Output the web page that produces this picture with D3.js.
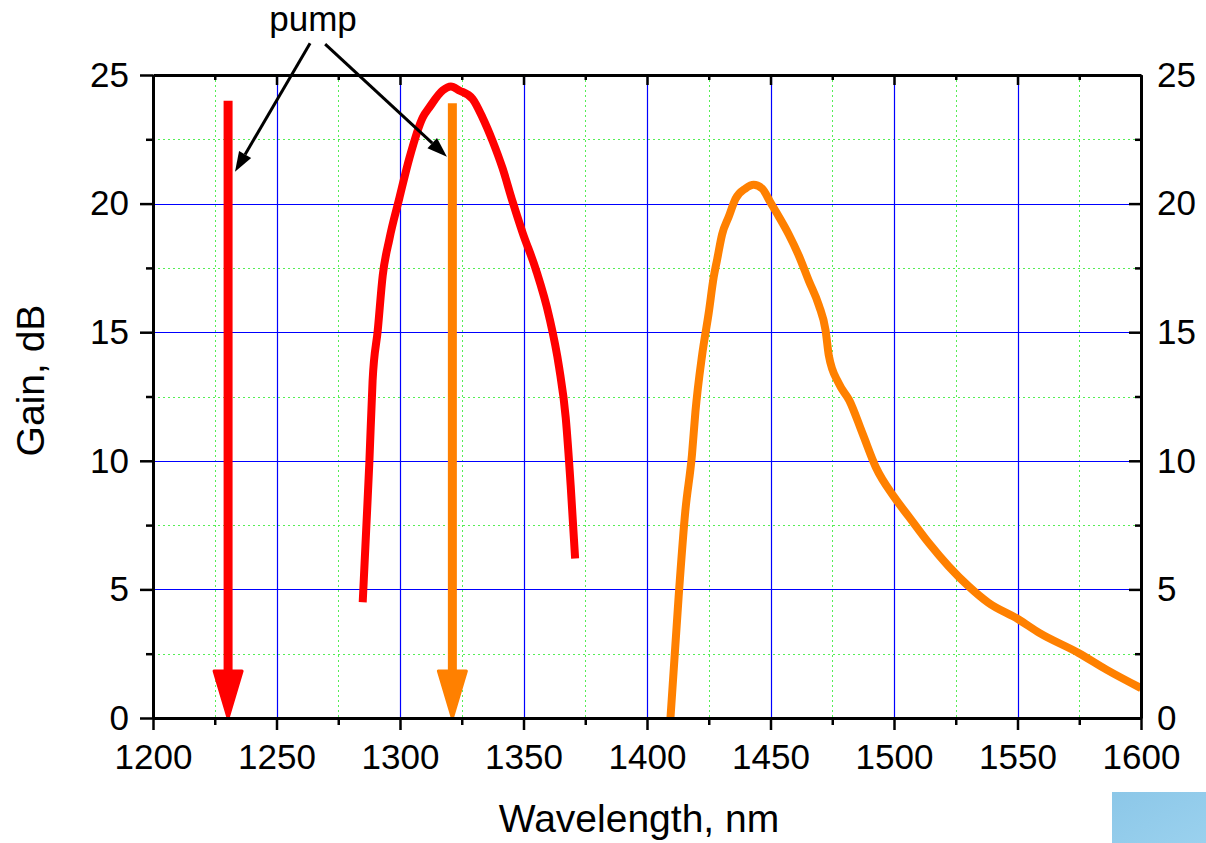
<!DOCTYPE html>
<html>
<head>
<meta charset="utf-8">
<script src="https://cdn.jsdelivr.net/npm/d3@7"></script>
<style>
  html, body { margin: 0; padding: 0; background: #fff; }
  svg { display: block; font-family: "Liberation Sans", Arial, sans-serif; }
</style>
</head>
<body>
<svg id="chart" width="1206" height="843"></svg>
<script>
// ---------- data ----------
const xMajorTicks = [1200, 1250, 1300, 1350, 1400, 1450, 1500, 1550, 1600];
const xMinorTicks = [1225, 1275, 1325, 1375, 1425, 1475, 1525, 1575];
const yMajorTicks = [0, 5, 10, 15, 20, 25];
const yMinorTicks = [2.5, 7.5, 12.5, 17.5, 22.5];

// red gain curve (pump 1230 nm)
const redWavelength = [1284.9, 1286.3, 1287.6, 1288.9, 1291.0, 1293.0, 1295.7, 1299.7, 1303.8, 1309.2, 1311.9, 1317.3, 1320.6, 1324.0, 1329.4, 1333.4, 1337.5, 1341.5, 1345.6, 1349.6, 1355.0, 1360.4, 1364.4, 1367.1, 1369.1, 1370.9];
const redGain       = [4.5, 7.3, 9.96, 13.11, 15.08, 17.2, 18.62, 20.2, 21.77, 23.35, 23.74, 24.4, 24.55, 24.4, 24.07, 23.35, 22.43, 21.38, 20.07, 18.88, 17.44, 15.6, 13.64, 11.67, 9.04, 6.2];

// orange gain curve (pump 1321 nm)
const orangeWavelength = [1409.5, 1412.8, 1415.5, 1418.2, 1419.6, 1422.3, 1425.0, 1427.0, 1428.4, 1430.4, 1433.1, 1435.8, 1439.9, 1443.2, 1446.6, 1450.0, 1453.4, 1457.4, 1461.5, 1465.5, 1469.6, 1472.3, 1473.6, 1477.7, 1481.9, 1487.3, 1492.6, 1500.0, 1506.0, 1514.1, 1522.1, 1530.2, 1538.2, 1550.3, 1559.0, 1574.7, 1586.0, 1600.0];
const orangeGain       = [0.0, 4.71, 8.03, 10.23, 11.9, 14.1, 15.76, 17.14, 17.83, 18.8, 19.49, 20.18, 20.59, 20.73, 20.59, 20.04, 19.49, 18.8, 17.97, 17.0, 16.04, 15.07, 14.1, 13.0, 12.35, 11.05, 9.76, 8.6, 7.83, 6.8, 5.9, 5.12, 4.48, 3.84, 3.3, 2.53, 1.88, 1.16];

// pump arrows: wavelength and top gain
const pumpWavelength = [1230.4, 1321.2];
const pumpTop        = [24.0, 23.9];
const pumpColors     = ["#ff0000", "#ff8000"];

// "pump" annotation (data coordinates)
const pumpLabel      = { text: "pump", wl: 1264.8, gain: 26.72 };
const pumpLineStart  = [[1263.6, 26.23], [1269.7, 26.2]];
const pumpLineEnd    = [[1233.2, 21.24], [1319.0, 21.82]];

// ---------- layout ----------
const W = 1206, H = 843;
const margin = { left: 153, right: 65, top: 75, bottom: 125 };
const iw = W - margin.left - margin.right;
const ih = H - margin.top - margin.bottom;

const svg = d3.select("#chart");
const g = svg.append("g").attr("transform", `translate(${margin.left},${margin.top})`);

const x = d3.scaleLinear().domain([1200, 1600]).range([0, iw]);
const y = d3.scaleLinear().domain([0, 25]).range([ih, 0]);

// ---------- grid ----------
const grid = g.append("g");
grid.selectAll("line.vmin").data(xMinorTicks).join("line")
  .attr("x1", d => Math.round(x(d)) + 0.5).attr("x2", d => Math.round(x(d)) + 0.5)
  .attr("y1", 0).attr("y2", ih)
  .attr("stroke", "#55ee55").attr("stroke-width", 1).attr("stroke-dasharray", "2,3");
grid.selectAll("line.hmin").data(yMinorTicks).join("line")
  .attr("y1", d => Math.round(y(d)) + 0.5).attr("y2", d => Math.round(y(d)) + 0.5)
  .attr("x1", 0).attr("x2", iw)
  .attr("stroke", "#55ee55").attr("stroke-width", 1).attr("stroke-dasharray", "2,3");
grid.selectAll("line.vmaj").data(xMajorTicks.slice(1, -1)).join("line")
  .attr("x1", d => Math.round(x(d)) + 0.5).attr("x2", d => Math.round(x(d)) + 0.5)
  .attr("y1", 0).attr("y2", ih)
  .attr("stroke", "#0000ff").attr("stroke-width", 1.2);
grid.selectAll("line.hmaj").data(yMajorTicks.slice(1, -1)).join("line")
  .attr("y1", d => Math.round(y(d)) + 0.5).attr("y2", d => Math.round(y(d)) + 0.5)
  .attr("x1", 0).attr("x2", iw)
  .attr("stroke", "#0000ff").attr("stroke-width", 1.2);

// ---------- curves ----------
const line = d3.line().x(d => x(d[0])).y(d => y(d[1])).curve(d3.curveMonotoneX);
g.append("path")
  .datum(redWavelength.map((w, i) => [w, redGain[i]]))
  .attr("d", line).attr("fill", "none")
  .attr("stroke", "#ff0000").attr("stroke-width", 8).attr("stroke-linejoin", "round");
g.append("path")
  .datum(orangeWavelength.map((w, i) => [w, orangeGain[i]]))
  .attr("d", line).attr("fill", "none")
  .attr("stroke", "#ff8000").attr("stroke-width", 8).attr("stroke-linejoin", "round");

// ---------- pump arrows ----------
const headLen = 47, headHalf = 14;
pumpWavelength.forEach((w, i) => {
  const px = x(w), top = y(pumpTop[i]), bot = y(0);
  g.append("line")
    .attr("x1", px).attr("x2", px).attr("y1", top).attr("y2", bot - headLen + 2)
    .attr("stroke", pumpColors[i]).attr("stroke-width", 9);
  g.append("path")
    .attr("d", `M${px - headHalf},${bot - headLen} L${px + headHalf},${bot - headLen} L${px},${bot} Z`)
    .attr("fill", pumpColors[i]).attr("stroke", pumpColors[i])
    .attr("stroke-width", 3).attr("stroke-linejoin", "round");
});

// ---------- axes ----------
const tickFont = 35;
function styleAxis(sel) {
  sel.select(".domain").attr("stroke", "#000").attr("stroke-width", 3);
  sel.selectAll(".tick line").attr("stroke", "#000").attr("stroke-width", 2.5);
  sel.selectAll("text").attr("font-size", tickFont).attr("fill", "#000")
    .attr("font-family", "'Liberation Sans', Arial, sans-serif");
}
function minorStyle(s) {
  s.select(".domain").remove();
  s.selectAll(".tick line").attr("stroke", "#000").attr("stroke-width", 2.5);
}
// bottom
g.append("g").attr("transform", `translate(0,${ih})`)
  .call(d3.axisBottom(x).tickValues(xMinorTicks).tickSize(7).tickSizeOuter(0).tickFormat(""))
  .call(minorStyle);
g.append("g").attr("transform", `translate(0,${ih})`)
  .call(d3.axisBottom(x).tickValues(xMajorTicks).tickSize(12).tickSizeOuter(0).tickPadding(14).tickFormat(d3.format("d")))
  .call(styleAxis);
// top (inward ticks)
g.append("g")
  .call(d3.axisTop(x).tickValues(xMinorTicks).tickSize(-5).tickSizeOuter(0).tickFormat(""))
  .call(minorStyle);
g.append("g")
  .call(d3.axisTop(x).tickValues(xMajorTicks).tickSize(-10).tickSizeOuter(0).tickFormat(""))
  .call(styleAxis);
// left
g.append("g")
  .call(d3.axisLeft(y).tickValues(yMinorTicks).tickSize(7).tickSizeOuter(0).tickFormat(""))
  .call(minorStyle);
g.append("g")
  .call(d3.axisLeft(y).tickValues(yMajorTicks).tickSize(13).tickSizeOuter(0).tickPadding(11).tickFormat(d3.format("d")))
  .call(styleAxis);
// right (inward ticks)
g.append("g").attr("transform", `translate(${iw},0)`)
  .call(d3.axisRight(y).tickValues(yMinorTicks).tickSize(-6).tickSizeOuter(0).tickFormat(""))
  .call(minorStyle);
g.append("g").attr("transform", `translate(${iw},0)`)
  .call(d3.axisRight(y).tickValues(yMajorTicks).tickSize(-12).tickSizeOuter(0).tickPadding(16).tickFormat(d3.format("d")))
  .call(styleAxis);

// ---------- axis titles ----------
svg.append("text")
  .attr("x", margin.left + iw / 2 - 8).attr("y", 832)
  .attr("text-anchor", "middle").attr("font-size", 39).attr("fill", "#000")
  .text("Wavelength, nm");
svg.append("text")
  .attr("transform", `translate(44,${margin.top + ih / 2 - 16}) rotate(-90)`)
  .attr("text-anchor", "middle").attr("font-size", 39).attr("fill", "#000")
  .text("Gain, dB");

// ---------- pump annotation ----------
svg.append("text")
  .attr("x", margin.left + x(pumpLabel.wl)).attr("y", margin.top + y(pumpLabel.gain))
  .attr("text-anchor", "middle").attr("font-size", 35).attr("fill", "#000")
  .text(pumpLabel.text);
pumpLineStart.forEach((s, i) => {
  const x1 = x(s[0]), y1 = y(s[1]);
  const x2 = x(pumpLineEnd[i][0]), y2 = y(pumpLineEnd[i][1]);
  const ang = Math.atan2(y2 - y1, x2 - x1);
  const L = 20, hw = 7;
  const bx = x2 - L * Math.cos(ang), by = y2 - L * Math.sin(ang);
  g.append("line").attr("x1", x1).attr("y1", y1).attr("x2", bx).attr("y2", by)
    .attr("stroke", "#000").attr("stroke-width", 3);
  g.append("path")
    .attr("d", `M${x2},${y2} L${bx + hw * Math.sin(ang)},${by - hw * Math.cos(ang)} L${bx - hw * Math.sin(ang)},${by + hw * Math.cos(ang)} Z`)
    .attr("fill", "#000");
});

// ---------- corner decoration ----------
const defs = svg.append("defs");
const grad = defs.append("linearGradient").attr("id", "cornerGrad")
  .attr("x1", 0).attr("y1", 0).attr("x2", 1).attr("y2", 1);
grad.append("stop").attr("offset", "0%").attr("stop-color", "#8cc7e8");
grad.append("stop").attr("offset", "100%").attr("stop-color", "#9ad1ee");
svg.append("rect").attr("x", 1112).attr("y", 792).attr("width", 94).attr("height", 51)
  .attr("fill", "url(#cornerGrad)");
</script>
</body>
</html>
